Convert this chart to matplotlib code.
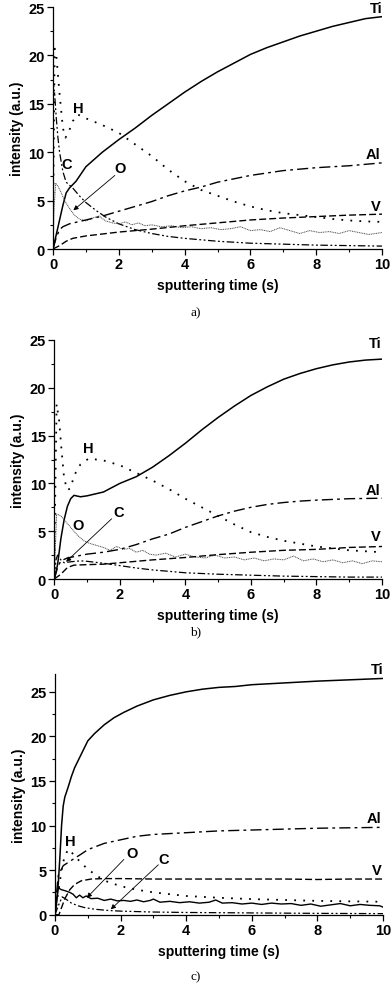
import matplotlib
matplotlib.use("Agg")
import matplotlib.pyplot as plt
from matplotlib.ticker import MultipleLocator

plt.rcParams['font.family'] = ['Liberation Sans', 'DejaVu Sans']

# ---------------- panel a ----------------
t_a_Ti = [0, 0.1, 0.2, 0.3, 0.4, 0.5, 0.7, 1.0, 1.5, 2.0, 2.5, 3.0, 3.5, 4.0, 4.5, 5.0, 5.5, 6.0, 6.5, 7.0, 7.5, 8.0, 8.5, 9.0, 9.5, 10]
a_Ti = [0, 1.5, 3.0, 4.5, 5.8, 6.3, 7.0, 8.5, 10.0, 11.3, 12.5, 13.8, 15.0, 16.2, 17.3, 18.3, 19.2, 20.1, 20.8, 21.4, 22.0, 22.5, 23.0, 23.4, 23.8, 24.0]
t_a_H = [0, 0.05, 0.1, 0.2, 0.3, 0.38, 0.5, 0.6, 0.75, 1.0, 1.5, 2.0, 2.5, 3.0, 3.5, 4.0, 4.5, 5.0, 5.5, 6.0, 6.5, 7.0, 7.5, 8.0, 8.5, 9.0, 9.5, 10]
a_H = [2, 20.7, 20.0, 16.0, 12.5, 11.5, 12.3, 13.2, 13.9, 13.5, 12.8, 12.0, 10.8, 9.6, 8.2, 7.0, 6.1, 5.5, 4.9, 4.4, 4.0, 3.7, 3.5, 3.3, 3.1, 2.95, 2.85, 2.8]
t_a_C = [0, 0.05, 0.1, 0.15, 0.2, 0.3, 0.4, 0.6, 0.8, 1.0, 1.3, 1.6, 2.0, 2.5, 3.0, 3.5, 4.0, 5.0, 6.0, 7.0, 8.0, 9.0, 10]
a_C = [17.5, 16.0, 13.5, 11.5, 10.0, 8.0, 6.9, 6.3, 5.5, 4.8, 4.0, 3.3, 2.6, 2.0, 1.6, 1.3, 1.1, 0.8, 0.6, 0.5, 0.4, 0.35, 0.3]
t_a_O = [0, 0.03, 0.08, 0.15, 0.25, 0.35, 0.5, 0.65, 0.8, 1.0, 1.2, 1.4, 1.6, 1.8, 2.0, 2.2, 2.4, 2.6, 2.8, 3.0, 3.3, 3.6, 3.9, 4.2, 4.5, 4.8, 5.1, 5.4, 5.7, 6.0, 6.3, 6.6, 6.9, 7.2, 7.5, 7.8, 8.1, 8.4, 8.7, 9.0, 9.3, 9.6, 10]
a_O = [0, 4.0, 6.8, 6.5, 5.8, 5.0, 4.2, 3.5, 3.1, 2.9, 3.2, 3.4, 2.9, 2.7, 2.6, 2.8, 2.5, 2.7, 2.4, 2.5, 2.3, 2.4, 2.2, 2.3, 2.1, 2.2, 2.0, 2.1, 2.3, 1.9, 2.0, 1.8, 2.2, 1.9, 1.6, 1.9, 1.7, 1.8, 1.6, 1.9, 1.7, 1.5, 1.7]
t_a_Al = [0, 0.1, 0.2, 0.3, 0.5, 1.0, 1.5, 2.0, 2.5, 3.0, 3.5, 4.0, 4.5, 5.0, 6.0, 7.0, 8.0, 9.0, 10]
a_Al = [0, 1.2, 2.0, 2.3, 2.6, 3.0, 3.4, 3.9, 4.4, 4.9, 5.5, 6.0, 6.4, 6.9, 7.6, 8.1, 8.4, 8.6, 8.9]
t_a_V = [0, 0.2, 0.4, 0.6, 1.0, 1.5, 2.0, 3.0, 4.0, 5.0, 6.0, 7.0, 8.0, 9.0, 10]
a_V = [0, 0.35, 0.8, 1.1, 1.35, 1.55, 1.75, 2.05, 2.4, 2.7, 3.0, 3.2, 3.35, 3.5, 3.6]

# ---------------- panel b ----------------
t_b_Ti = [0, 0.1, 0.2, 0.3, 0.4, 0.5, 0.6, 0.8, 1.0, 1.5, 2.0, 2.5, 3.0, 3.5, 4.0, 4.5, 5.0, 5.5, 6.0, 6.5, 7.0, 7.5, 8.0, 8.5, 9.0, 9.5, 10]
b_Ti = [0, 1.5, 4.2, 6.2, 7.6, 8.4, 8.75, 8.6, 8.7, 9.1, 10.0, 10.7, 11.7, 12.9, 14.2, 15.6, 16.9, 18.1, 19.2, 20.1, 20.9, 21.5, 22.0, 22.4, 22.7, 22.9, 23.0]
t_b_H = [0, 0.07, 0.15, 0.22, 0.3, 0.4, 0.5, 0.6, 0.8, 1.05, 1.5, 2.0, 2.5, 3.0, 3.5, 4.0, 4.5, 5.0, 5.5, 6.0, 6.5, 7.0, 7.5, 8.0, 8.5, 9.0, 9.5, 10]
b_H = [2, 18.3, 16.5, 13.5, 10.5, 9.3, 9.5, 10.8, 12.0, 12.6, 12.4, 11.9, 11.1, 10.3, 9.4, 8.4, 7.5, 6.6, 5.7, 4.9, 4.4, 4.0, 3.7, 3.4, 3.2, 3.0, 2.9, 2.8]
t_b_C = [0, 0.05, 0.1, 0.2, 0.3, 0.5, 0.8, 1.0, 1.5, 2.0, 2.5, 3.0, 3.5, 4.0, 5.0, 6.0, 7.0, 8.0, 9.0, 10]
b_C = [0, 2.0, 2.5, 2.0, 1.7, 1.8, 1.9, 1.85, 1.65, 1.4, 1.15, 0.95, 0.8, 0.65, 0.5, 0.4, 0.3, 0.25, 0.2, 0.2]
t_b_O = [0, 0.03, 0.07, 0.2, 0.35, 0.5, 0.7, 0.9, 1.1, 1.3, 1.5, 1.7, 1.9, 2.1, 2.3, 2.5, 2.7, 2.9, 3.1, 3.4, 3.7, 4.0, 4.3, 4.6, 4.9, 5.2, 5.5, 5.8, 6.1, 6.4, 6.7, 7.0, 7.3, 7.6, 7.9, 8.2, 8.5, 8.8, 9.1, 9.4, 9.7, 10]
b_O = [0, 3.0, 6.8, 6.6, 6.0, 5.4, 4.6, 4.0, 3.7, 3.5, 3.3, 3.0, 3.4, 3.1, 3.2, 2.8, 3.0, 2.6, 2.5, 2.7, 2.3, 2.6, 2.3, 2.2, 2.5, 2.2, 2.3, 2.0, 2.2, 1.9, 2.1, 2.0, 2.4, 1.9, 2.1, 1.8, 2.0, 1.7, 1.9, 1.6, 1.9, 1.8]
t_b_Al = [0, 0.1, 0.2, 0.4, 0.7, 1.0, 1.5, 2.0, 2.5, 3.0, 3.5, 4.0, 4.5, 5.0, 5.5, 6.0, 6.5, 7.0, 7.5, 8.0, 9.0, 10]
b_Al = [0, 1.2, 1.9, 2.2, 2.4, 2.6, 2.8, 3.1, 3.6, 4.2, 4.7, 5.4, 6.0, 6.6, 7.1, 7.5, 7.8, 8.0, 8.15, 8.25, 8.4, 8.45]
t_b_V = [0, 0.2, 0.4, 0.6, 1.0, 1.5, 2.0, 3.0, 4.0, 5.0, 6.0, 7.0, 8.0, 9.0, 10]
b_V = [0, 0.5, 1.2, 1.45, 1.5, 1.55, 1.7, 2.0, 2.25, 2.55, 2.8, 3.0, 3.1, 3.3, 3.4]

# ---------------- panel c ----------------
t_c_Ti = [0, 0.05, 0.1, 0.15, 0.2, 0.25, 0.3, 0.4, 0.5, 0.6, 0.8, 1.0, 1.2, 1.5, 1.8, 2.1, 2.5, 3.0, 3.5, 4.0, 4.5, 5.0, 5.5, 6.0, 7.0, 8.0, 9.0, 10]
c_Ti = [0, 1.5, 3.5, 6.5, 10.0, 12.2, 13.2, 14.3, 15.5, 16.5, 18.0, 19.5, 20.3, 21.3, 22.1, 22.7, 23.4, 24.1, 24.6, 25.0, 25.3, 25.5, 25.6, 25.8, 26.0, 26.2, 26.35, 26.5]
t_c_H = [0, 0.1, 0.2, 0.3, 0.42, 0.6, 0.8, 1.0, 1.3, 1.6, 2.0, 2.5, 3.0, 4.0, 5.0, 6.0, 7.0, 8.0, 9.0, 10]
c_H = [0, 2.5, 5.0, 6.7, 7.35, 6.6, 5.8, 5.1, 4.3, 3.7, 3.2, 2.8, 2.5, 2.1, 1.9, 1.75, 1.65, 1.55, 1.5, 1.45]
t_c_C = [0, 0.1, 0.22, 0.35, 0.5, 0.7, 0.9, 1.2, 1.6, 2.0, 3.0, 4.0, 6.0, 8.0, 10]
c_C = [0, 1.0, 2.0, 1.7, 1.3, 1.0, 0.8, 0.62, 0.48, 0.4, 0.3, 0.25, 0.2, 0.15, 0.12]
t_c_O = [0, 0.05, 0.1, 0.2, 0.3, 0.45, 0.55, 0.65, 0.75, 0.85, 0.95, 1.1, 1.3, 1.5, 1.7, 1.9, 2.1, 2.3, 2.5, 2.7, 2.9, 3.0, 3.2, 3.5, 3.8, 4.1, 4.4, 4.7, 4.9, 5.1, 5.4, 5.7, 6.0, 6.3, 6.6, 6.9, 7.2, 7.5, 7.8, 8.1, 8.4, 8.7, 9.0, 9.3, 9.6, 9.9, 10]
c_O = [0, 1.5, 3.0, 2.8, 2.7, 2.5, 2.3, 1.9, 2.2, 1.9, 2.1, 1.8, 1.85, 1.6, 1.75, 1.55, 1.6, 1.5, 1.65, 1.45, 1.6, 1.75, 1.4, 1.5, 1.35, 1.45, 1.3, 1.4, 1.65, 1.3, 1.35, 1.2, 1.3, 1.15, 1.3, 1.2, 1.25, 1.05, 1.2, 0.95, 1.1, 1.25, 1.0, 1.15, 1.05, 1.0, 0.85]
t_c_Al = [0, 0.05, 0.1, 0.25, 0.5, 0.8, 1.0, 1.5, 2.0, 2.5, 3.0, 4.0, 5.0, 6.0, 7.0, 8.0, 9.0, 10]
c_Al = [0, 2.5, 4.4, 5.5, 6.1, 6.8, 7.3, 8.0, 8.4, 8.8, 9.0, 9.2, 9.4, 9.5, 9.6, 9.7, 9.75, 9.8]
t_c_V = [0, 0.12, 0.2, 0.3, 0.45, 0.6, 0.8, 1.1, 1.5, 2.0, 3.0, 4.0, 5.0, 6.0, 7.0, 8.0, 9.0, 10]
c_V = [0, 0, 0.8, 1.8, 2.8, 3.4, 3.8, 4.0, 4.05, 4.05, 4.0, 4.0, 4.0, 4.0, 4.0, 3.95, 4.0, 4.0]

# ---------------- styles ----------------
LS_Ti = '-'
LS_H = (0, (1, 4))
LS_C = (0, (6, 2, 1.5, 2, 1.5, 2))
LS_O = (0, (1, 0.8))
LS_Al = (0, (8, 3, 2, 3))
LS_V = (0, (5, 2.2))

fig = plt.figure(figsize=(3.92, 9.87), dpi=100)

# axes rects in pixels: left, right, top, bottom
rects = [(53, 382, 8, 250), (54.3, 382, 341, 580), (55, 383, 675, 915.7)]
ylims = [25, 25, 27]
W, H = 392, 987

def make_ax(r, ymax):
    l, rr, t, b = r
    ax = fig.add_axes([l / W, (H - b) / H, (rr - l) / W, (b - t) / H])
    ax.set_xlim(0, 10)
    ax.set_ylim(0, ymax)
    for s in ['top', 'right']:
        ax.spines[s].set_visible(False)
    for s in ['left', 'bottom']:
        ax.spines[s].set_linewidth(0.9)
    ax.xaxis.set_major_locator(MultipleLocator(2))
    ax.xaxis.set_minor_locator(MultipleLocator(1))
    ax.yaxis.set_major_locator(MultipleLocator(5))
    ax.yaxis.set_minor_locator(MultipleLocator(2.5))
    ax.tick_params(which='major', direction='out', length=4, width=0.9, labelsize=10.5, pad=2)
    ax.tick_params(which='minor', direction='out', length=2.5, width=0.8)
    for lab in ax.get_xticklabels() + ax.get_yticklabels():
        lab.set_fontweight('bold')
    ax.set_xlabel('sputtering time (s)', fontsize=10, fontweight='bold', labelpad=5)
    ax.set_ylabel('intensity (a.u.)', fontsize=10, fontweight='bold', labelpad=3)
    return ax

lab_kw = dict(fontsize=10.5, fontweight='bold')
arr_kw = dict(arrowstyle='-|>', lw=0.6, color='k', mutation_scale=7, shrinkA=0, shrinkB=0)

# panel a
ax = make_ax(rects[0], ylims[0])
ax.plot(t_a_Ti, a_Ti, ls=LS_Ti, color='k', lw=1.1)
ax.plot(t_a_H, a_H, ls=LS_H, color='k', lw=1.3)
ax.plot(t_a_C, a_C, ls=LS_C, color='k', lw=0.9)
ax.plot(t_a_O, a_O, ls=LS_O, color='#444444', lw=0.7)
ax.plot(t_a_Al, a_Al, ls=LS_Al, color='k', lw=1.0)
ax.plot(t_a_V, a_V, ls=LS_V, color='k', lw=1.0)
ax.text(10, 24.9, 'Ti', ha='right', va='center', **lab_kw)
ax.text(0.77, 14.6, 'H', ha='center', va='center', **lab_kw)
ax.text(0.43, 8.8, 'C', ha='center', va='center', **lab_kw)
ax.text(2.05, 8.4, 'O', ha='center', va='center', **lab_kw)
ax.annotate('', xy=(0.62, 4.0), xytext=(1.88, 7.6), arrowprops=arr_kw)
ax.text(9.95, 9.8, 'Al', ha='right', va='center', **lab_kw)
ax.text(9.95, 4.45, 'V', ha='right', va='center', **lab_kw)
fig.text(196 / W, 1 - 313 / H, 'a)', ha='center', va='center', family='Liberation Serif', fontsize=9.5)

# panel b
ax = make_ax(rects[1], ylims[1])
ax.plot(t_b_Ti, b_Ti, ls=LS_Ti, color='k', lw=1.1)
ax.plot(t_b_H, b_H, ls=LS_H, color='k', lw=1.3)
ax.plot(t_b_C, b_C, ls=LS_C, color='k', lw=0.9)
ax.plot(t_b_O, b_O, ls=LS_O, color='#444444', lw=0.7)
ax.plot(t_b_Al, b_Al, ls=LS_Al, color='k', lw=1.0)
ax.plot(t_b_V, b_V, ls=LS_V, color='k', lw=1.0)
ax.text(10, 24.7, 'Ti', ha='right', va='center', **lab_kw)
ax.text(1.04, 13.7, 'H', ha='center', va='center', **lab_kw)
ax.text(0.73, 5.6, 'O', ha='center', va='center', **lab_kw)
ax.text(1.95, 7.0, 'C', ha='center', va='center', **lab_kw)
ax.annotate('', xy=(0.36, 1.8), xytext=(1.75, 6.3), arrowprops=arr_kw)
ax.text(9.95, 9.3, 'Al', ha='right', va='center', **lab_kw)
ax.text(9.95, 4.5, 'V', ha='right', va='center', **lab_kw)
fig.text(196 / W, 1 - 632 / H, 'b)', ha='center', va='center', family='Liberation Serif', fontsize=9.5)

# panel c
ax = make_ax(rects[2], ylims[2])
ax.plot(t_c_Ti, c_Ti, ls=LS_Ti, color='k', lw=1.1)
ax.plot(t_c_H, c_H, ls=LS_H, color='k', lw=1.3)
ax.plot(t_c_C, c_C, ls=LS_C, color='k', lw=0.9)
ax.plot(t_c_O, c_O, ls='-', color='k', lw=1.0)
ax.plot(t_c_Al, c_Al, ls=LS_Al, color='k', lw=1.0)
ax.plot(t_c_V, c_V, ls=LS_V, color='k', lw=1.0)
ax.text(10, 27.6, 'Ti', ha='right', va='center', clip_on=False, **lab_kw)
ax.text(0.46, 8.3, 'H', ha='center', va='center', **lab_kw)
ax.text(2.34, 6.9, 'O', ha='center', va='center', **lab_kw)
ax.annotate('', xy=(0.97, 1.9), xytext=(2.1, 6.2), arrowprops=arr_kw)
ax.text(3.32, 6.3, 'C', ha='center', va='center', **lab_kw)
ax.annotate('', xy=(1.7, 0.6), xytext=(3.15, 5.6), arrowprops=arr_kw)
ax.text(9.95, 10.9, 'Al', ha='right', va='center', **lab_kw)
ax.text(9.95, 5.0, 'V', ha='right', va='center', **lab_kw)
fig.text(196 / W, 1 - 977 / H, 'c)', ha='center', va='center', family='Liberation Serif', fontsize=9.5)

fig.savefig('out.png', dpi=100)
